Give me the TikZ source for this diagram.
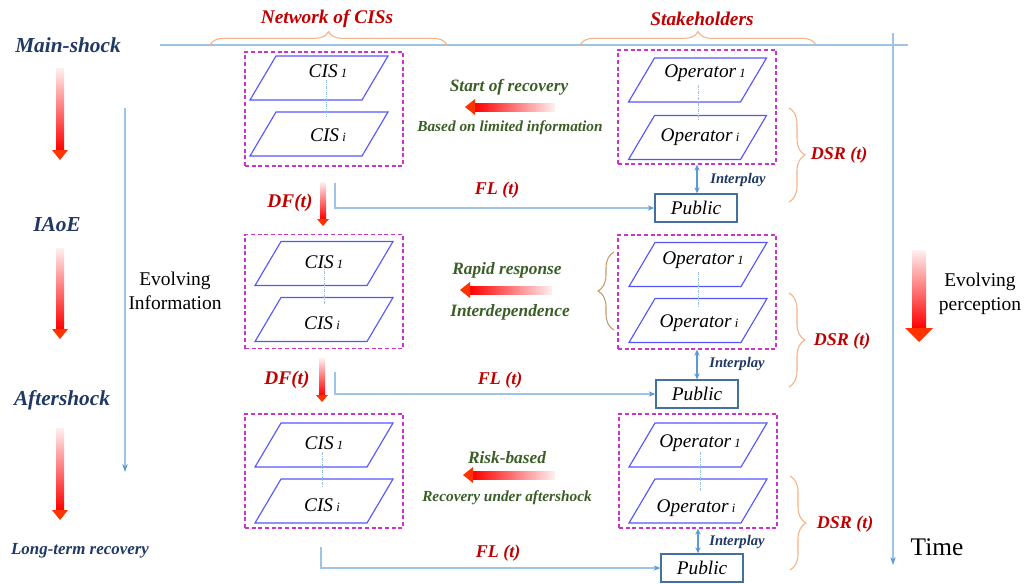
\documentclass[tikz,border=0pt]{standalone}
\usepackage{fontspec}
\setmainfont{Liberation Serif}
\usetikzlibrary{arrows.meta,decorations.pathreplacing}
\definecolor{navy}{HTML}{1F3864}
\definecolor{dred}{HTML}{C00000}
\definecolor{dgreen}{HTML}{3B5E27}
\definecolor{lblue}{HTML}{9DC3E6}
\definecolor{mblue}{HTML}{5B9BD5}
\definecolor{borange}{HTML}{F4B183}
\definecolor{bbrown}{HTML}{C49A6C}
\definecolor{magen}{HTML}{CC33CC}
\definecolor{pblue}{HTML}{5555FF}
\definecolor{pubblue}{HTML}{41719C}
\definecolor{hred}{HTML}{FF3300}
\newcommand\vgarrow[6]{%
  \shade[top color=red!6, bottom color=red] (#1-#4,#2) rectangle (#1+#4,#3-#6);
  \fill[hred] (#1-#5,#3-#6) -- (#1+#5,#3-#6) -- (#1,#3) -- cycle;}
\newcommand\hgarrow[6]{%
  \shade[left color=red, right color=red!6] (#1+#6,#3-#4) rectangle (#2,#3+#4);
  \fill[hred] (#1+#6,#3-#5) -- (#1+#6,#3+#5) -- (#1,#3) -- cycle;}
\newcommand\parag[2]{%
  \draw[para] (#1-69,#2+22) -- (#1+43,#2+22) -- (#1+69,#2-22) -- (#1-43,#2-22) -- cycle;}
\newcommand\sbs[1]{\,{\fontsize{9.5}{9.5}\selectfont #1}}
\tikzset{
 phase/.style={font=\fontsize{16}{18}\selectfont\bfseries\itshape, text=navy, inner sep=0},
 header/.style={font=\fontsize{14.5}{16}\selectfont\bfseries\itshape, text=dred, inner sep=0},
 redlab/.style={font=\fontsize{13.5}{15}\selectfont\bfseries\itshape, text=dred, inner sep=0},
 dflab/.style={font=\fontsize{14.5}{16}\selectfont\bfseries\itshape, text=dred, inner sep=0},
 glab/.style={font=\fontsize{13}{15}\selectfont\bfseries\itshape, text=dgreen, inner sep=0},
 glabs/.style={font=\fontsize{11.5}{13}\selectfont\bfseries\itshape, text=dgreen, inner sep=0},
 iplab/.style={font=\fontsize{11}{13}\selectfont\bfseries\itshape, text=navy, inner sep=0},
 plain/.style={font=\fontsize{14.6}{18}\selectfont, align=center, inner sep=0},
 dbox/.style={draw=magen, dash pattern=on 3pt off 2pt, line width=0.9pt, minimum width=118.5pt, minimum height=85.5pt, inner sep=0},
 para/.style={draw=pblue, line width=0.85pt},
 ptext/.style={font=\fontsize{14.5}{16}\selectfont\itshape, inner sep=0},
 pubbox/.style={draw=pubblue, line width=1pt, minimum width=61.5pt, minimum height=21pt, font=\fontsize{14.5}{16}\selectfont\itshape, inner sep=0},
 axis/.style={draw=lblue, line width=0.8pt},
 flline/.style={draw=lblue, line width=0.9pt, -{Stealth[length=5pt,width=4pt,color=mblue]}},
 ipl/.style={draw=mblue, line width=0.8pt, {Stealth[length=4.5pt,width=4pt]}-{Stealth[length=4.5pt,width=4pt]}},
 dotl/.style={draw=lblue, line width=0.5pt, dash pattern=on 2pt off 1pt on 0.5pt off 1pt},
 obrace/.style={draw=borange, line width=0.8pt, decorate, decoration={brace, amplitude=#1}},
 obrace/.default=10pt
}
\begin{document}
\begin{tikzpicture}[x=0.75pt,y=-0.75pt]
\useasboundingbox (0,0) rectangle (1024,583);
% axes
\coordinate (tl) at (160,45); \coordinate (tr) at (908,45);
\draw[axis] (tl) -- (tr);
\coordinate (tt) at (893,33); \coordinate (tb) at (893,565);
\draw[axis, -{Stealth[length=6pt,width=4pt,color=mblue]}] (tt) -- (tb);
\node[plain, font=\fontsize{19}{21}\selectfont] (time) at (937,547) {Time};
\coordinate (it) at (125,108); \coordinate (ib) at (125,472);
\draw[axis, -{Stealth[length=6pt,width=4pt,color=mblue]}] (it) -- (ib);
\node[plain] (evinfo) at (175,291) {Evolving\\Information};
\node[plain] (evperc) at (980,294) {Evolving\\perception};
% phases
\node[phase] (ms) at (68,45) {Main-shock};
\node[phase] (iaoe) at (57,225) {IAoE};
\node[phase] (as) at (62,400) {Aftershock};
\node[phase, font=\fontsize{12.7}{14}\selectfont\bfseries\itshape] (ltr) at (80,551) {Long-term recovery};
\vgarrow{60}{68}{160}{4}{8}{10}
\vgarrow{60}{248}{339}{4}{8}{10}
\vgarrow{60}{428}{520}{4}{8}{10}
\vgarrow{919}{250}{342}{7}{14}{14}
% headers
\node[header] (hnet) at (327,19) {Network of CISs};
\node[header] (hsta) at (702,19) {Stakeholders};
\coordinate (b1l) at (210,45); \coordinate (b1r) at (447,45);
\coordinate (b2l) at (580,45); \coordinate (b2r) at (816,45);
\draw[obrace] (b1l) -- (b1r);
\draw[obrace] (b2l) -- (b2r);
% CIS boxes
\node[dbox] (cb1) at (324,109) {};
\node[dbox] (cb2) at (324,291.5) {};
\node[dbox] (cb3) at (324,471) {};
\parag{319}{78} \parag{319}{134}
\parag{324}{263.5} \parag{324}{319.5}
\parag{324}{445} \parag{324}{501}
\draw[dotl] (326,80) -- (326,117);
\draw[dotl] (324,265) -- (324,305);
\draw[dotl] (322,452) -- (322,488);
\node[ptext] (c11) at (328,71) {CIS\sbs{1}};
\node[ptext] (c1i) at (328,135) {CIS\sbs{i}};
\node[ptext] (c21) at (324,262) {CIS\sbs{1}};
\node[ptext] (c2i) at (322,323) {CIS\sbs{i}};
\node[ptext] (c31) at (324,443) {CIS\sbs{1}};
\node[ptext] (c3i) at (322,505) {CIS\sbs{i}};
% Operator boxes
\node[dbox] (ob1) at (697,107) {};
\node[dbox] (ob2) at (697,292) {};
\node[dbox] (ob3) at (698,471) {};
\parag{697.5}{80} \parag{697.5}{137.5}
\parag{698}{264.5} \parag{698}{320.5}
\parag{698}{445} \parag{698}{501}
\draw[dotl] (698,85) -- (698,120);
\draw[dotl] (698,272) -- (698,308);
\draw[dotl] (700,452) -- (700,492);
\node[ptext] (o11) at (705,73) {Operator\sbs{1}};
\node[ptext] (o1i) at (700,137) {Operator\sbs{i}};
\node[ptext] (o21) at (703,260) {Operator\sbs{1}};
\node[ptext] (o2i) at (699,323) {Operator\sbs{i}};
\node[ptext] (o31) at (700,443) {Operator\sbs{1}};
\node[ptext] (o3i) at (696,508) {Operator\sbs{i}};
% Public
\node[pubbox] (pub1) at (696,208) {Public};
\node[pubbox] (pub2) at (697,394) {Public};
\node[pubbox] (pub3) at (702,568) {Public};
\draw[ipl] (ob1.south) -- (ob1.south |- pub1.north);
\draw[ipl] (ob2.south) -- (ob2.south |- pub2.north);
\draw[ipl] (ob3.south) -- (ob3.south |- pub3.north);
\node[iplab] (ip1) at (738,180) {Interplay};
\node[iplab] (ip2) at (737,364) {Interplay};
\node[iplab] (ip3) at (737,542) {Interplay};
% DSR braces
\coordinate (d1t) at (789,108); \coordinate (d1b) at (789,202);
\coordinate (d2t) at (789,293); \coordinate (d2b) at (789,387);
\coordinate (d3t) at (790,476); \coordinate (d3b) at (790,570);
\draw[obrace=12pt] (d1t) -- (d1b);
\draw[obrace=12pt] (d2t) -- (d2b);
\draw[obrace=12pt] (d3t) -- (d3b);
\node[redlab] (dsr1) at (839,155) {DSR (t)};
\node[redlab] (dsr2) at (842,341) {DSR (t)};
\node[redlab] (dsr3) at (845,524) {DSR (t)};
\coordinate (lbb) at (614,330); \coordinate (lbt) at (614,252);
\draw[obrace=12pt, draw=bbrown] (lbb) -- (lbt);
% horizontal arrows and labels
\hgarrow{465}{555}{107}{4}{8}{10}
\hgarrow{460}{552}{290}{4}{8}{10}
\hgarrow{463}{555}{475}{4}{8}{10}
\node[glab] (g1a) at (509,87) {Start of recovery};
\node[glabs] (g1b) at (510,128) {Based on limited information};
\node[glab] (g2a) at (507,270) {Rapid response};
\node[glab] (g2b) at (510,312) {Interdependence};
\node[glab] (g3a) at (507,458) {Risk-based};
\node[glabs] (g3b) at (507,498) {Recovery under aftershock};
% DF arrows
\vgarrow{323}{182}{226}{3}{6}{7}
\vgarrow{322}{358}{402}{3}{6}{7}
\node[dflab] (df1) at (290,203) {DF(t)};
\node[dflab] (df2) at (287,380) {DF(t)};
% FL lines
\coordinate (fl1) at (335,183);
\coordinate (fl2) at (335,372);
\coordinate (fl3) at (321,547);
\draw[flline] (fl1) |- (pub1.west);
\draw[flline] (fl2) |- (pub2.west);
\draw[flline] (fl3) |- (pub3.west);
\node[redlab] (fla) at (497,190) {FL (t)};
\node[redlab] (flb) at (500,380) {FL (t)};
\node[redlab] (flc) at (498,553) {FL (t)};
\end{tikzpicture}
\end{document}
